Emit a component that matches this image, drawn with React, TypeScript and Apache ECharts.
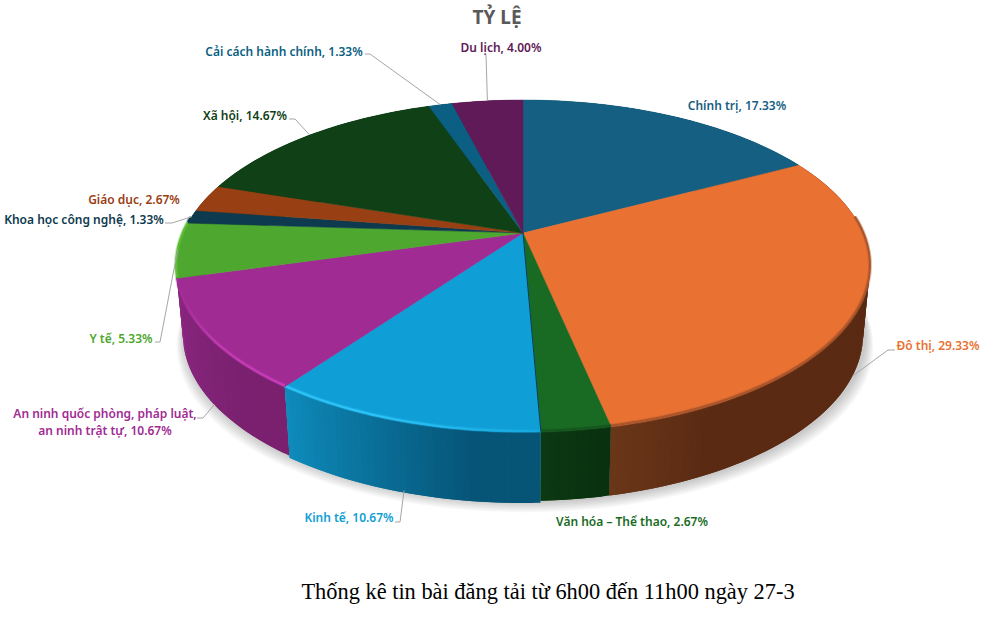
import React, { useEffect, useRef } from "react";
import * as echarts from "echarts";

const categories = [
  "Chính trị", "Đô thị", "Văn hóa – Thể thao", "Kinh tế",
  "An ninh quốc phòng, pháp luật,\nan ninh trật tự", "Y tế", "Khoa học công nghệ",
  "Giáo dục", "Xã hội", "Cải cách hành chính", "Du lịch",
];
const values = [17.33, 29.33, 2.67, 10.67, 10.67, 5.33, 1.33, 2.67, 14.67, 1.33, 4.0];
const colors = ["#156082", "#E97132", "#196B24", "#0F9ED5", "#A02B93", "#4EA72E", "#0D3A4E", "#984013", "#0F4016", "#0A5F82", "#601A58"];
const rimFrom = ["#156082", "#A9542A", "#14561D", "#2CC4F8", "#A02B93", "#5BBE36", "#0D3A4E", "#984013", "#0F4016", "#0A5F82", "#601A58"];
const rimMid = ["#156082", "#A9542A", "#14561D", "#2CC4F8", "#C03AB2", "#5BBE36", "#0D3A4E", "#984013", "#0F4016", "#0A5F82", "#601A58"];
const rimTo = ["#156082", "#A9542A", "#14561D", "#15A8DE", "#C83CBA", "#5BBE36", "#0D3A4E", "#984013", "#0F4016", "#0A5F82", "#601A58"];
const sideLeft = ["#0e4058", "#6C3719", "#0B3A12", "#0E8DBE", "#8B2781", "#8B2781", "#092937", "#6a2d0d", "#0a2d0f", "#07425c", "#43123d"];
const sideRight = ["#0e4058", "#5A2A13", "#09310F", "#065476", "#7A206F", "#8B2781", "#092937", "#6a2d0d", "#0a2d0f", "#07425c", "#43123d"];
const sideReach = [1, 0.15, 1, 0.8, 0.8, 1, 1, 1, 1, 1, 1];
const sideOrder = [0, 1, 2, 5, 4, 6, 7, 8, 9, 10, 3];
const title = "TỶ LỆ";
const caption = "Thống kê tin bài đăng tải từ 6h00 đến 11h00 ngày 27-3";

// label placement: [x, y, align]
const labelAt: [number, number, string][] = [
  [737, 105, "center"], [938, 345, "center"], [632, 521, "center"], [349, 517, "center"],
  [105, 422, "center"], [121, 338, "center"], [84, 219, "center"], [134, 199, "center"],
  [245, 115, "center"], [284, 51, "center"], [501, 47, "center"],
];
// leader elbows: [elbowX, elbowY, endX]
const leaders: ([number, number, number] | null)[] = [
  null, [888, 350, 895], null, [400, 522, 395], [203, 418, 197], [160, 342, 155],
  [172, 223, 165], null, [295, 119, 289], [370, 54, 365], [486, 55, 486],
];

const CX = 523, CY = 233, A = 340, B = 159.4, K = 0.199;
const ELLIPSE_CY = 266, BOTTOM_CY = 335, BOTTOM_SX = 0.98;
const FONT = '600 12px "Noto Sans"';

const total = values.reduce((a, b) => a + b, 0);
const starts: number[] = [];
values.reduce((acc, v, i) => { starts[i] = acc; return acc + v; }, 0);
const angleOf = (pct: number) => (pct / total) * Math.PI * 2;

const topPoint = (t: number): [number, number] => {
  const u = Math.sin(t), v = Math.cos(t), w = 1 + K * v;
  return [CX + (A * u) / w, CY - (B * v) / w];
};
const bottomPoint = (t: number, extra = 0): [number, number] => {
  const [x, y] = topPoint(t);
  return [CX + (x - CX) * BOTTOM_SX, BOTTOM_CY + (y - ELLIPSE_CY) + extra];
};
const arc = (a0: number, a1: number, fn: (t: number) => [number, number]) => {
  const n = Math.max(4, Math.ceil(((a1 - a0) * 180) / Math.PI));
  const pts: [number, number][] = [];
  for (let i = 0; i <= n; i++) pts.push(fn(a0 + ((a1 - a0) * i) / n));
  return pts;
};
const range = (i: number): [number, number] => [angleOf(starts[i]), angleOf(starts[i] + values[i])];
const hex = (c: string) => [1, 3, 5].map((k) => parseInt(c.slice(k, k + 2), 16));
const mix = (a: string, b: string, f: number) => {
  const ca = hex(a), cb = hex(b);
  return `rgb(${ca.map((x, k) => Math.round(x + (cb[k] - x) * f)).join(",")})`;
};
const SHADOW_LAYERS = [1, 2, 3, 4, 5, 6, 7];

export default function App() {
  const ref = useRef<HTMLDivElement>(null);
  useEffect(() => {
    document.body.style.margin = "0";
    document.body.style.background = "#fff";
    const chart = echarts.init(ref.current!, null, { renderer: "svg" });
    chart.setOption({
      animation: false,
      backgroundColor: "#fff",
      title: {
        text: title, left: 492, top: 2, textAlign: "center",
        textStyle: { color: "#595959", fontSize: 19, fontWeight: "bold", fontFamily: "Noto Sans" },
      },
      graphic: [{
        type: "text", x: 548, y: 591,
        style: { text: caption, fill: "#000", font: '22.4px "Liberation Serif"', align: "center", verticalAlign: "middle" },
      }],
      series: [
        {
          type: "custom", coordinateSystem: "none", silent: true, z: 1,
          data: SHADOW_LAYERS,
          renderItem: (p: any) => {
            const d = SHADOW_LAYERS[p.dataIndex];
            return {
              type: "polygon",
              shape: {
                points: arc(0, Math.PI * 2, (t) => {
                  const [x, y] = bottomPoint(t);
                  return [CX + 2 + (x - CX) * (1 + d * 0.0035), y + d * 1.6];
                }),
              },
              style: { fill: "rgba(0,0,0,0.03)" },
            };
          },
        },
        {
          type: "custom", coordinateSystem: "none", silent: true, z: 2,
          data: sideOrder.map((i) => values[i]),
          renderItem: (p: any) => {
            const i = sideOrder[p.dataIndex];
            const [a0, a1] = range(i);
            const extra = i === 3 ? 2 : 0;
            const top = arc(a0, a1, topPoint);
            const bot = arc(a0, a1, (t) => bottomPoint(t, extra));
            const children: any[] = [];
            const last = top.length - 1;
            // drawn from the last segment back, each strip reaching over the next one so no seam shows
            for (let k = last - 1; k >= 0; k--) {
              const f = (k + 0.5) / last;
              const c = mix(sideLeft[i], sideRight[i], Math.min(1, (1 - f) / sideReach[i]));
              const n = Math.min(last, k + 2);
              children.push({
                type: "polygon",
                shape: { points: [top[k], top[n], bot[n], bot[k]] },
                style: { fill: c },
              });
            }
            return { type: "group", children };
          },
        },
        {
          type: "custom", coordinateSystem: "none", silent: true, z: 3,
          data: values,
          renderItem: (p: any) => {
            const i = p.dataIndex;
            const [a0, a1] = range(i);
            const rim = arc(a0, a1, topPoint);
            const visible = rim.filter((_, k) => {
              const t = a0 + ((a1 - a0) * k) / (rim.length - 1);
              return Math.cos(t) < 0.1;
            }).map(([x, y]) => [x, y - 1]);
            const children: any[] = [
              { type: "polygon", shape: { points: [[CX, CY], ...rim] }, style: { fill: colors[i], stroke: colors[i], lineWidth: 0.5 } },
            ];
            if (visible.length > 1) {
              const grad = new echarts.graphic.LinearGradient(0, 0, 1, 0, [
                { offset: 0, color: rimFrom[i] }, { offset: 0.35, color: rimMid[i] }, { offset: 1, color: rimTo[i] },
              ]);
              children.push(
                { type: "polyline", shape: { points: visible }, style: { fill: "none", stroke: grad, lineWidth: 4, opacity: 0.35 } },
                { type: "polyline", shape: { points: visible }, style: { fill: "none", stroke: grad, lineWidth: 2 } },
              );
            }
            return { type: "group", children };
          },
        },
        {
          type: "custom", coordinateSystem: "none", silent: true, z: 4,
          data: values,
          renderItem: (p: any) => {
            const i = p.dataIndex;
            const [a0, a1] = range(i);
            const mid = (a0 + a1) / 2;
            const children: any[] = [];
            const leader = leaders[i];
            if (leader) {
              const start = Math.cos(mid) < -0.2 ? bottomPoint(mid) : topPoint(mid);
              children.push({
                type: "polyline",
                shape: { points: [start, [leader[0], leader[1]], [leader[2], leader[1]]] },
                style: { fill: "none", stroke: "#A6A6A6", lineWidth: 1 },
              });
            }
            const [lx, ly, align] = labelAt[i];
            children.push({
              type: "text",
              style: {
                text: `${categories[i]}, ${values[i].toFixed(2)}%`,
                x: lx, y: ly, fill: colors[i], font: FONT, align, verticalAlign: "middle", lineHeight: 17,
              },
            });
            if (i === 3) {
              const [ex, ey] = topPoint(a0);
              children.push({ type: "line", shape: { x1: CX, y1: CY, x2: ex, y2: ey }, style: { stroke: "#0A3A50", lineWidth: 1 } });
            }
            return { type: "group", children };
          },
        },
      ],
    });
    return () => chart.dispose();
  }, []);
  return <div ref={ref} style={{ width: 991, height: 628 }} />;
}
